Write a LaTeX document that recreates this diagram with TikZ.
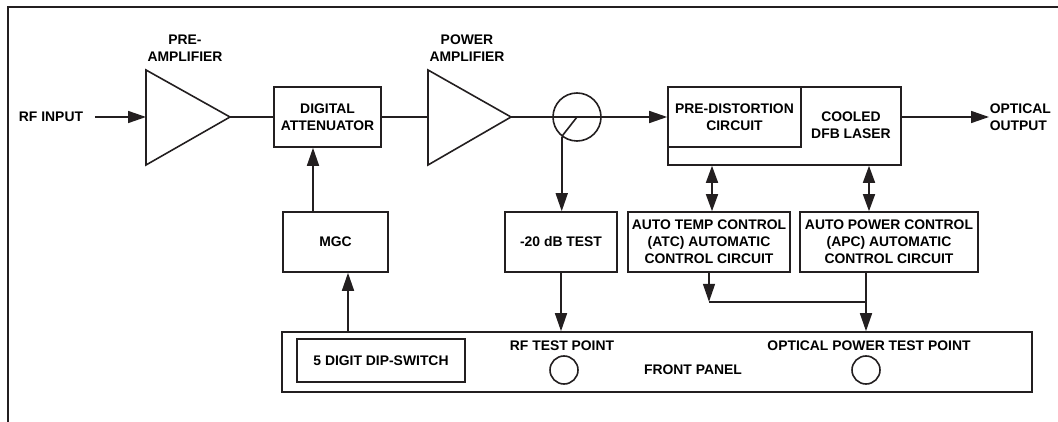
\documentclass[tikz,border=0pt]{standalone}
\usepackage{fontspec}
\setmainfont{Liberation Sans}
\usetikzlibrary{arrows.meta}
\definecolor{ink}{HTML}{231F20}

\begin{document}
\begin{tikzpicture}[x=1pt,y=-1pt,line width=1.6pt,draw=ink,
  font=\fontsize{13.9}{17}\selectfont\bfseries]
\useasboundingbox (0,0) rectangle (1058,422);
\tikzset{
    blk/.style={draw,align=center,inner sep=0pt,minimum width=#1,minimum height=60pt},
    arr/.style={-{Triangle[length=18pt,width=12pt]}},
    darr/.style={{Triangle[length=17pt,width=12pt]}-{Triangle[length=17pt,width=12pt]}},
    lbl/.style={align=center,inner sep=0pt}
}
\draw[line width=2.2pt] (1058,7) -- (8,7) -- (8,422);

\node[lbl] (rfin) at (51,117) {RF INPUT};
\draw (146,70) -- (146,165) -- (230,117) -- cycle;
\coordinate (prein) at (146,117);
\coordinate (preout) at (230,117);
\node[lbl] (prelbl) at (185,48.5) {PRE-\\AMPLIFIER};

\node[blk=107pt] (att) at (327.5,117) {DIGITAL\\ATTENUATOR};

\draw (428,70) -- (428,165) -- (511,117) -- cycle;
\coordinate (pwin) at (428,117);
\coordinate (pwout) at (511,117);
\node[lbl] (pwlbl) at (467,48.5) {POWER\\AMPLIFIER};

\node[draw,circle,minimum size=48pt,inner sep=0pt] (cpl) at (577,117) {};

\node[draw,minimum width=233pt,minimum height=78pt,inner sep=0pt] (laser) at (784.5,126) {};
\node[blk=133pt] (pd) at (734.5,117) {PRE-DISTORTION\\CIRCUIT};
\node[lbl] (dfb) at (851,125.5) {COOLED\\DFB LASER};
\node[lbl,align=left,anchor=west] (optout) at (989,117) {OPTICAL\\OUTPUT};

\node[blk=105pt] (mgc) at (335.5,242) {MGC};
\node[blk=112pt] (test) at (561,242) {-20 dB TEST};
\node[blk=162pt] (atc) at (709,242) {AUTO TEMP CONTROL\\(ATC) AUTOMATIC\\CONTROL CIRCUIT};
\node[blk=178pt] (apc) at (889,242) {AUTO POWER CONTROL\\(APC) AUTOMATIC\\CONTROL CIRCUIT};

\node[blk=750pt] (panel) at (657,362) {};
\node[draw,minimum width=168pt,minimum height=43pt,inner sep=0pt] (dip) at (381,360.5) {5 DIGIT DIP-SWITCH};
\node[lbl] (rftplbl) at (562,346) {RF TEST POINT};
\node[draw,circle,minimum size=28pt,inner sep=0pt] (rftp) at (564,370) {};
\node[lbl] (fplbl) at (693,370) {FRONT PANEL};
\node[lbl] (optplbl) at (869,346) {OPTICAL POWER TEST POINT};
\node[draw,circle,minimum size=28pt,inner sep=0pt] (optp) at (866,370) {};

\draw[arr] ([xshift=11pt]rfin.east) -- (prein);
\draw (preout) -- (att.west);
\draw (att.east) -- (pwin);
\draw[arr] (pwout) -- (pd.west);
\draw (cpl.center) -- (cpl.232);
\draw[arr] (cpl.232) -- (cpl.232 |- test.north);
\draw[arr] ([xshift=-22.5pt]mgc.north) -- ([xshift=-22.5pt]mgc.north |- att.south);
\draw[arr] ([xshift=12.5pt]mgc.south |- panel.north) -- ([xshift=12.5pt]mgc.south);
\draw[arr] (laser.east |- optout.west) -- (optout.west);
\draw[darr] ([xshift=3pt]atc.north |- laser.south) -- ([xshift=3pt]atc.north);
\draw[darr] ([xshift=-20pt]apc.north |- laser.south) -- ([xshift=-20pt]apc.north);
\draw[arr] (test.south) -- (test.south |- panel.north);
\coordinate (join) at ([xshift=-23pt,yshift=-29pt]apc.south);
\draw[arr] (atc.south) -- (atc.south |- join);
\draw (atc.south |- join) -- (join);
\draw[arr] ([xshift=-23pt]apc.south) -- ([xshift=-23pt]apc.south |- panel.north);
\end{tikzpicture}
\end{document}
